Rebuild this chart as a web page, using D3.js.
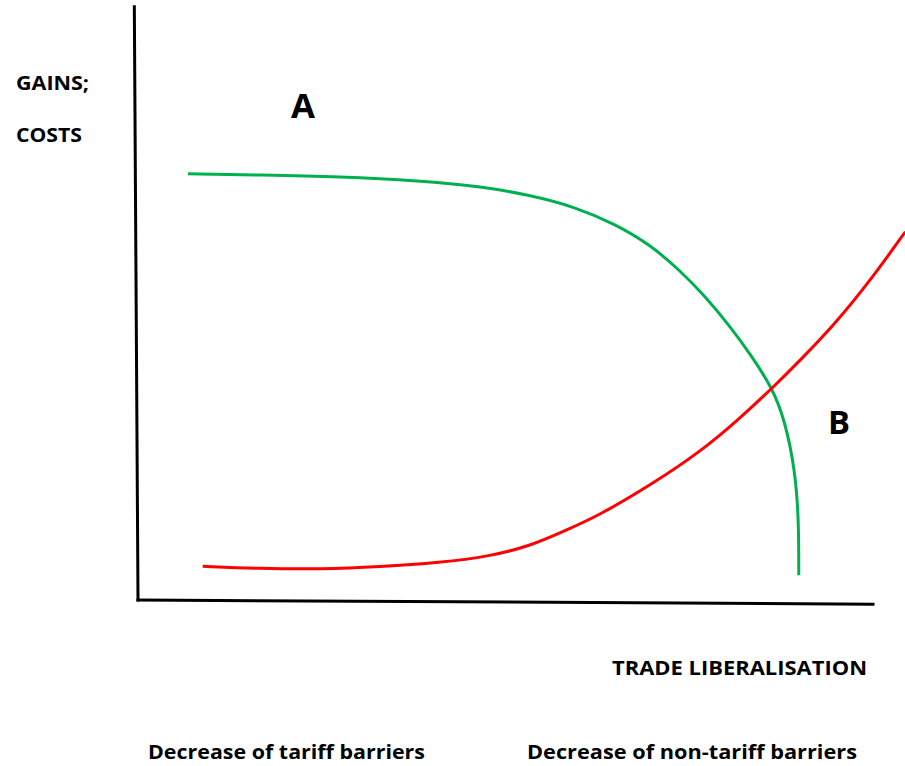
<!DOCTYPE html>
<html>
<head>
<meta charset="utf-8">
<script src="https://cdn.jsdelivr.net/npm/d3@7"></script>
<style>
    html, body { margin: 0; padding: 0; background: #fff; }
    text { font-family: "Open Sans", "Liberation Sans", sans-serif; font-weight: bold; fill: #000; }
</style>
</head>
<body>
<svg id="chart" width="905" height="766"></svg>
<script>
'use strict';

// values in chart units: 0..100 along both axes
var gainsX = [6.8, 16.6, 27.5, 38.4, 46.5, 53.3, 59.5, 64.9, 69.7, 73.7, 77.1, 80.5, 83.5, 86.3, 88.0, 89.4, 89.9, 89.9];
var gainsY = [72.0, 71.8, 71.5, 70.8, 69.9, 68.4, 66.4, 63.5, 60.0, 55.7, 51.4, 46.3, 41.2, 35.8, 30.4, 22.0, 13.5, 4.2];

var costsX = [8.8, 16.6, 24.8, 32.9, 41.1, 47.9, 53.3, 58.1, 62.9, 69.7, 76.5, 81.9, 86.3, 90.1, 94.8, 99.6, 104.4];
var costsY = [5.7, 5.3, 5.2, 5.6, 6.3, 7.4, 9.1, 11.7, 14.4, 19.4, 25.0, 30.7, 35.8, 40.5, 46.6, 53.9, 62.2];

// hand drawn axes, slightly off square
var yAxisX = [-0.5, 0];
var yAxisY = [100.2, 0];
var xAxisX = [0, 100];
var xAxisY = [0, -0.7];

var yTitle = ['GAINS;', 'COSTS'];
var xTitle = 'TRADE LIBERALISATION';
var stageLabels = ['Decrease of tariff barriers', 'Decrease of non-tariff barriers'];
var areaLabels = ['A', 'B'];

var svg = d3.select('#chart');

var x = d3.scaleLinear().domain([0, 100]).range([138, 873]),
    y = d3.scaleLinear().domain([0, 100]).range([600, 8]);

function zipXY(xs, ys) {
    return xs.map(function(v, i) { return [v, ys[i]]; });
}

// basis smooths out small reading errors between the points
var line = d3.line()
    .x(function(d) { return x(d[0]); })
    .y(function(d) { return y(d[1]); })
    .curve(d3.curveBasis);

var straight = d3.line()
    .x(function(d) { return x(d[0]); })
    .y(function(d) { return y(d[1]); });

// axes
[zipXY(yAxisX, yAxisY), zipXY(xAxisX, xAxisY)].forEach(function(pts) {
    svg.append('path')
        .attr('d', straight(pts))
        .attr('fill', 'none')
        .attr('stroke', '#000')
        .attr('stroke-width', 3)
        .attr('stroke-linecap', 'square');
});

// curves
svg.append('path')
    .attr('d', line(zipXY(gainsX, gainsY)))
    .attr('fill', 'none')
    .attr('stroke', '#00b050')
    .attr('stroke-width', 3);

svg.append('path')
    .attr('d', line(zipXY(costsX, costsY)))
    .attr('fill', 'none')
    .attr('stroke', '#ff0000')
    .attr('stroke-width', 3);

// labels
function label(str, px, py, size, len) {
    var t = svg.append('text')
        .attr('x', px)
        .attr('y', py)
        .style('font-size', size + 'px')
        .text(str);
    if(len) t.attr('textLength', len).attr('lengthAdjust', 'spacingAndGlyphs');
    return t;
}

label(yTitle[0], 16, 90, 20, 73);
label(yTitle[1], 16, 142, 20, 66);
label(areaLabels[0], 291, 118, 34, 24);
label(areaLabels[1], 828, 434, 32, 22);
label(xTitle, 612, 675, 20, 255);
label(stageLabels[0], 148, 759, 19, 277);
label(stageLabels[1], 527, 759, 19, 330);
</script>
</body>
</html>
